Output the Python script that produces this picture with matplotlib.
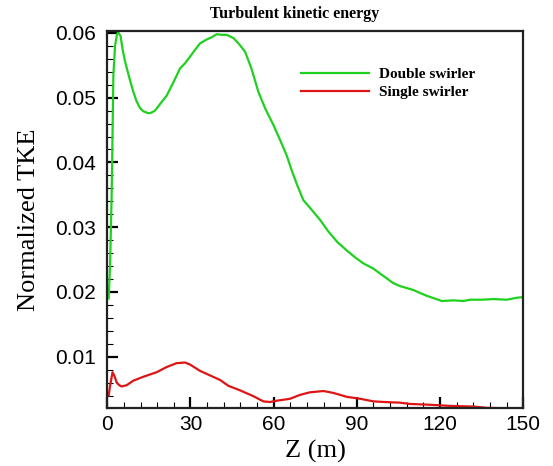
import matplotlib
matplotlib.use("Agg")
import matplotlib.pyplot as plt
from matplotlib.ticker import MultipleLocator, FormatStrFormatter

# Data
z_double = [0.5, 1.0, 1.6, 2.2, 2.8, 3.5, 4.0, 4.8, 5.5, 6.4, 8.0, 9.4, 10.5, 11.8, 13.0,
            14.8, 16.0, 17.2, 19.0, 21.4, 24.0, 26.2, 28.0, 29.8, 31.5, 33.5, 35.9, 37.5,
            39.5, 41.5, 43.1, 45.5, 47.5, 49.7, 52.0, 54.5, 57.0, 59.9, 62.3, 64.7, 66.5,
            68.5, 70.7, 73.5, 76.8, 79.8, 83.0, 86.4, 89.5, 92.4, 96.0, 98.5, 100.8, 103.0,
            105.6, 108.0, 110.4, 113.0, 115.3, 118.0, 120.7, 124.9, 128.5, 130.9, 135.0,
            139.3, 144.1, 147.7, 150.0]
tke_double = [0.0190, 0.0240, 0.0355, 0.0535, 0.0580, 0.0598, 0.0601, 0.0595, 0.0575, 0.0556,
              0.0530, 0.0509, 0.0495, 0.0484, 0.0479, 0.0476, 0.0477, 0.0480, 0.0490, 0.0503,
              0.0525, 0.0545, 0.0553, 0.0563, 0.0573, 0.0584, 0.0590, 0.0593, 0.0598, 0.0597,
              0.0597, 0.0592, 0.0583, 0.0571, 0.0545, 0.0509, 0.0483, 0.0458, 0.0435, 0.0411,
              0.0388, 0.0365, 0.0342, 0.0328, 0.0311, 0.0293, 0.0277, 0.0264, 0.0253, 0.0244,
              0.0236, 0.0228, 0.0221, 0.0214, 0.0209, 0.0206, 0.0203, 0.0198, 0.0194, 0.0190,
              0.0186, 0.0187, 0.0186, 0.0188, 0.0188, 0.0189, 0.0188, 0.0191, 0.0192]

z_single = [0.5, 1.0, 1.9, 2.6, 3.4, 4.3, 5.2, 7.0, 9.4, 13.0, 17.8, 21.4, 25.0, 28.0, 29.8,
            33.5, 37.1, 40.7, 43.7, 47.9, 52.7, 56.3, 58.7, 61.1, 65.9, 69.5, 73.1, 78.0,
            81.6, 86.4, 91.2, 96.0, 100.0, 105.6, 109.2, 115.3, 123.7, 132.1, 136.9, 147.7,
            150.0]
tke_single = [0.0040, 0.0055, 0.0076, 0.0070, 0.0060, 0.0056, 0.0054, 0.0056, 0.0063, 0.0069,
              0.0076, 0.0084, 0.0090, 0.0091, 0.0088, 0.0078, 0.0071, 0.0064, 0.0055, 0.0048,
              0.0039, 0.0031, 0.0030, 0.0032, 0.0035, 0.0041, 0.0045, 0.0047, 0.0044, 0.0038,
              0.0035, 0.0031, 0.0030, 0.0029, 0.0027, 0.0026, 0.0024, 0.0023, 0.0021, 0.0020,
              0.0020]

series_labels = ["Double swirler", "Single swirler"]
title_text = "Turbulent kinetic energy"
xlabel_text = "Z (m)"
ylabel_text = "Normalized TKE"

serif = "Liberation Serif"
sans = "Liberation Sans"

fig = plt.figure(figsize=(5.53, 4.66), dpi=100)
ax = fig.add_axes([0.194, 0.1234, 0.752, 0.8101])

ax.plot(z_double, tke_double, color="#1fd11f", lw=1.6, label=series_labels[0])
ax.plot(z_single, tke_single, color="#dd1515", lw=1.6, label=series_labels[1])

ax.set_xlim(0, 150)
ax.set_ylim(0.002, 0.0603)
ax.xaxis.set_major_locator(MultipleLocator(30))
ax.xaxis.set_minor_locator(MultipleLocator(6))
ax.yaxis.set_major_locator(MultipleLocator(0.01))
ax.yaxis.set_minor_locator(MultipleLocator(0.002))
ax.yaxis.set_major_formatter(FormatStrFormatter("%.2f"))
ax.set_yticks([0.01, 0.02, 0.03, 0.04, 0.05, 0.06])

for s in ax.spines.values():
    s.set_linewidth(1.6)
    s.set_color("#222222")

ax.tick_params(axis="both", which="major", direction="in", length=8, width=1.6,
               labelsize=15, top=False, right=False)
ax.tick_params(axis="both", which="minor", direction="in", length=4, width=0.8,
               top=False, right=False)
ax.tick_params(axis="x", which="major", pad=5)
ax.tick_params(axis="y", which="major", pad=8)
for lab in ax.get_xticklabels() + ax.get_yticklabels():
    lab.set_fontfamily(sans)

ax.set_xlabel(xlabel_text, fontfamily=serif, fontsize=19, labelpad=4)
ax.set_ylabel(ylabel_text, fontfamily=serif, fontsize=19)
ax.yaxis.set_label_coords(-0.162, 0.5)

ax.set_title(title_text, fontfamily=serif, fontsize=11.5, fontweight="bold",
             x=0.4515, pad=9)

leg = ax.legend(loc="upper left", bbox_to_anchor=(0.452, 0.92), frameon=False,
                prop={"family": serif, "weight": "bold", "size": 11},
                handlelength=4.4, handletextpad=0.7, labelspacing=0.3,
                borderaxespad=0)
for line in leg.get_lines():
    line.set_linewidth(1.6)

fig.savefig("out.png", dpi=100)
